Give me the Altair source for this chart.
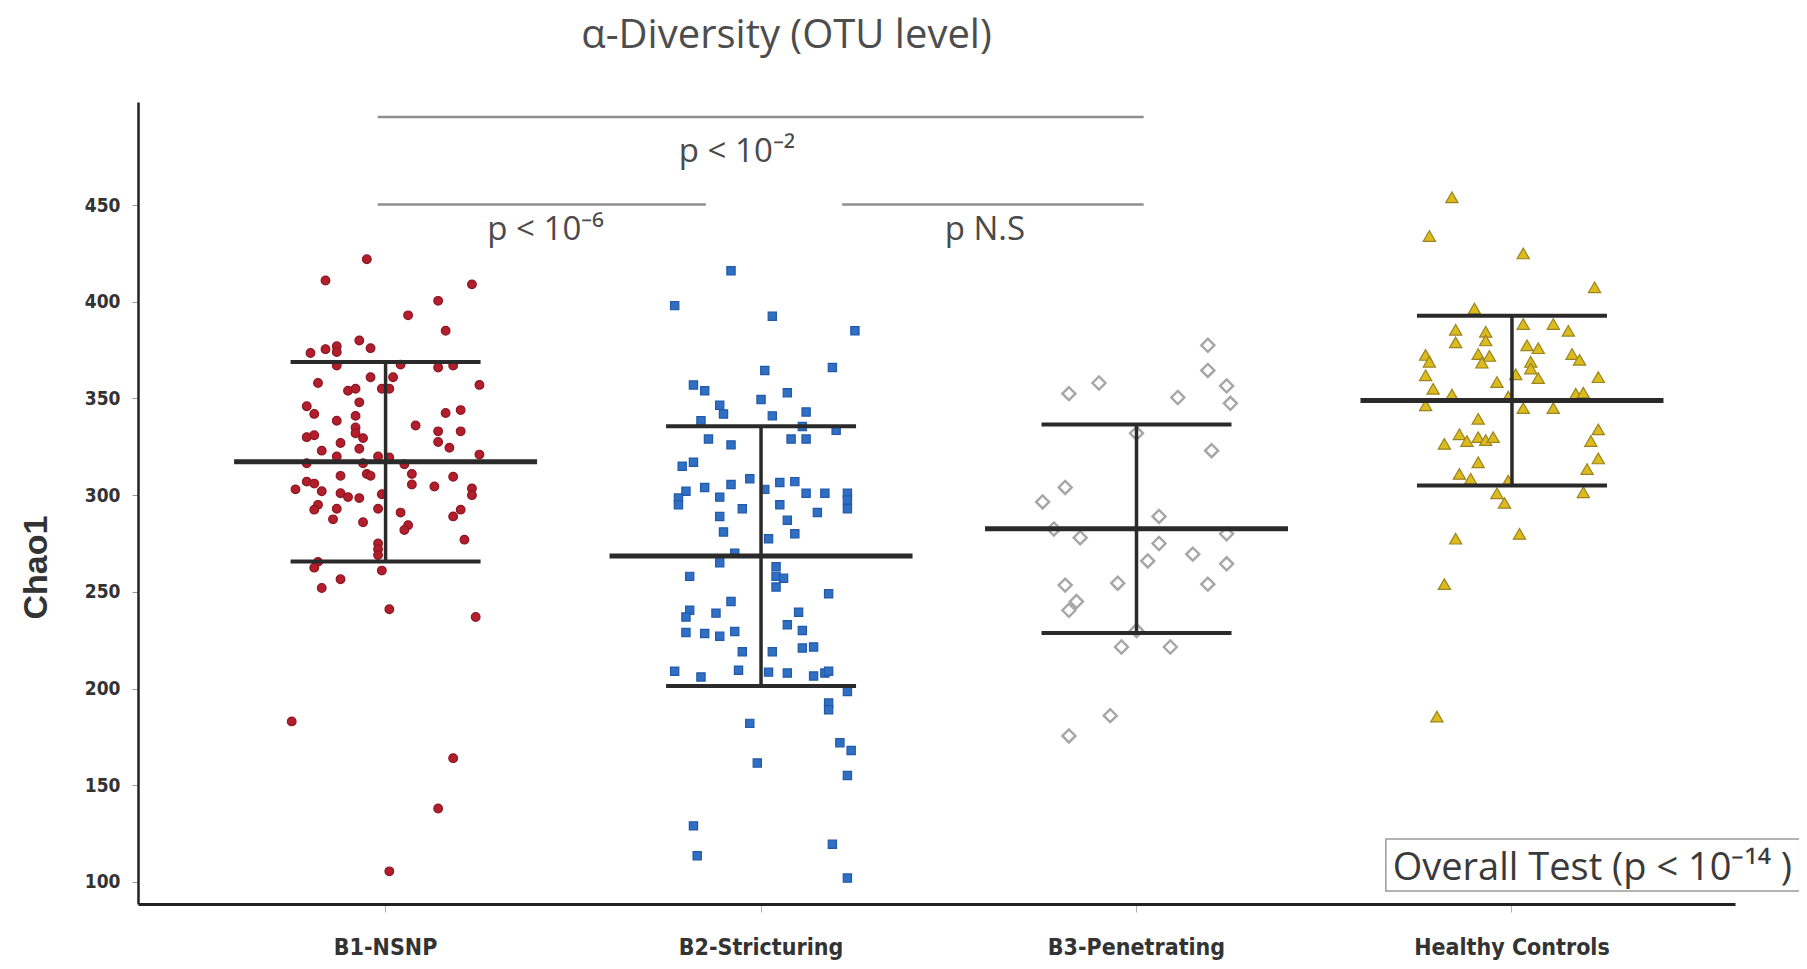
import altair as alt
import pandas as pd

GROUPS = ["B1-NSNP", "B2-Stricturing", "B3-Penetrating", "Healthy Controls"]

# Chao1 values; jitter in % of the category spacing
B1_CHAO1 = [422, 411, 409, 400.5, 393, 385, 380, 376, 373.5, 375.5,
            377, 374, 367, 367.5, 366, 367, 361, 361, 358, 357,
            354, 355, 355, 355, 348, 346, 342, 342.5, 344, 341,
            338.5, 336, 335, 333, 333, 330, 331, 329.5, 332, 327,
            327.5, 324.5, 324, 323, 321, 320, 320, 319.5, 316.5, 316.5,
            316, 311, 310, 311, 310, 309.5, 307, 306, 305.5, 304.5,
            303.5, 303, 302, 301, 300.5, 299, 298.5, 300, 295, 292.5,
            293, 293, 292.5, 291, 289, 287.5, 286, 284.5, 282, 277,
            275, 272, 269, 265.5, 262.5, 261, 256.5, 252, 241, 237,
            183, 164, 138, 105.5]
B1_JITTER = [-5, -16, 23, 14, 6, 16, -7, -4, -20, -16,
             -13, -13, -13, 4, 14, 18, -4, 2, -18, 25,
             -10, -8, -1, 1, -7, -21, -19, 16, 20, -8,
             -13, 8, -8, 14, 20, -21, -19, -6, -8, -12,
             14, 17, -7, -17, 25, -13, -2, 1, -21, -6,
             5, -5, -12, 7, -4, 18, -21, -19, 7, 13,
             23, -24, -17, -12, -1, -10, -7, 23, -18, -19,
             -13, -2, 20, 4, 18, -14, -6, 6, 5, 21,
             -2, -2, -2, -18, -19, -1, -12, -17, 1, 24,
             -25, 18, 14, 1]

B2_CHAO1 = [416, 398, 392.5, 385, 364.5, 366, 357, 354, 353, 349.5,
            346.5, 342, 343, 341, 338.5, 335.5, 333.5, 329, 326, 329,
            329, 317, 315, 308.5, 305.5, 306.5, 307, 304, 303, 302,
            301, 301, 301, 298.5, 299, 297.5, 295, 295, 293, 293,
            291, 289, 287, 281, 280, 277.5, 270, 265, 263, 258,
            257, 252.5, 258, 249, 245, 240.5, 239.5, 237, 239,
            229, 228.5, 227, 229.5, 233, 230,
            219, 219, 221, 221.5, 209, 209.5, 208.5, 208, 206, 206.5,
            208, 209, 198.5, 192.5, 189, 182, 172, 168, 161.5, 155,
            129, 113.5, 119.5, 102]
B2_JITTER = [-8, -23, 3, 25, 1, 19, -18, -15, 7, 0,
             -11, -10, 12, 3, -16, 11, 20, -14, -8, 8,
             12, -18, -21, -3, -8, 5, 9, -15, 1, -20,
             12, 17, 23, -22, -11, 23, -22, 5, 23, -5,
             15, -11, 7, -10, 9, 2, -7, -11, 4, 4,
             6, 4, -19, 18, -8, -19, 10, -20, -12,
             -20, -15, -11, -7, 7, 11,
             -5, 3, 11, 14, -23, -6, 2, 7, -16, 14,
             17, 18, 23, 18, 18, -3, 21, 24, -1, 23,
             -18, -17, 19, 23]

B3_CHAO1 = [377.5, 364.5, 358, 352.5, 356.5, 347.5, 350.5, 332, 323, 304,
            296.5, 289, 282.5, 278, 280, 275, 269.5, 266, 264.5, 253.5,
            254.5, 254, 245, 240.5, 230, 221.5, 221.5, 186, 175.5]
B3_JITTER = [19, 19, -10, -18, 24, 25, 11, 0, 20, -19,
             -25, 6, -22, -15, 24, 6, 15, 3, 24, -19,
             -5, 19, -16, -18, 0, -4, 9, -7, -18]

HC_CHAO1 = [454, 434, 425, 407.5, 396.5, 388.5, 388.5, 385, 385.5, 384.5,
            379, 380, 377.5, 376, 372.5, 373, 372, 368.5, 373, 370,
            369, 369, 365.5, 362.5, 362, 360.5, 361, 358.5, 355, 352,
            351, 352.5, 353, 346.5, 345, 345, 339.5, 334, 331.5, 328,
            330, 328.5, 330, 326.5, 328, 317, 319, 313.5, 311, 308.5,
            307.5, 301, 301.5, 296, 277.5, 280, 254, 185.5]
HC_JITTER = [-16, -22, 3, 22, -10, 3, 11, 15, -15, -7,
             -15, -7, 4, 7, -23, -9, -6, -8, 16, 18,
             5, -22, 5, 1, -23, 7, 23, -4, -21, -16,
             -1, 17, 19, -23, 3, 11, -9, 23, -14, -12,
             -9, -7, -5, -18, 21, -9, 23, 20, -14, -11,
             -1, -4, 19, -2, -15, 2, -18, -20]

MEANS = [317.3, 268.5, 282.6, 348.9]
SDS = [51.6, 67.2, 53.9, 43.9]

P_LABELS = ["p < 10⁻²", "p < 10⁻⁶", "p N.S"]
OVERALL_LABEL = "Overall Test  (p < 10⁻¹⁴ )"

rows = []
for g, vals, jits in zip(GROUPS, [B1_CHAO1, B2_CHAO1, B3_CHAO1, HC_CHAO1],
                         [B1_JITTER, B2_JITTER, B3_JITTER, HC_JITTER]):
    for v, j in zip(vals, jits):
        rows.append({"group": g, "chao1": v, "jitter": j / 100.0})
points_df = pd.DataFrame(rows)
summary_df = pd.DataFrame({"group": GROUPS, "mean": MEANS, "sd": SDS})

NARROW = "Liberation Sans Narrow, DejaVu Sans Condensed, Arial Narrow, sans-serif"
x_scale = alt.Scale(type="band", domain=GROUPS, paddingInner=0, paddingOuter=0.1267, align=0.629)
y_scale = alt.Scale(domain=[88.6, 503.3], nice=False, zero=False)

x_axis = alt.Axis(labelFont=NARROW, labelFontSize=23, labelFontWeight="bold", labelColor="#333333",
                  labelPadding=24, labelAngle=0, labelAlign="center", labelBaseline="top",
                  labelLimit=500, tickSize=8, tickColor="#b0b0b0",
                  tickWidth=1, domainColor="#222222", domainWidth=3)
y_axis = alt.Axis(values=[100, 150, 200, 250, 300, 350, 400, 450], labelFont=NARROW, labelFontSize=19,
                  labelFontWeight="bold", labelColor="#333333", labelPadding=12, tickSize=6,
                  tickColor="#999999", tickWidth=1, domainColor="#222222", domainWidth=2.5,
                  titleFont="Liberation Sans, Arial, sans-serif", titleFontSize=34, titleFontWeight="bold",
                  titleColor="#333333", titleAngle=-90, titleX=-92, titleY=465, titleAlign="center",
                  titleBaseline="alphabetic")

# marker style per group: shape, fill, stroke, size, strokeWidth
STYLES = {
    "B1-NSNP": ("circle", "#b31e2c", "#8e1622", 75, 1.2),
    "B2-Stricturing": ("square", "#2f6fc4", "#2259a8", 68, 1.2),
    "B3-Penetrating": ("diamond", "#ffffff", "#a6a6a6", 170, 2.4),
    "Healthy Controls": ("triangle-up", "#dcbc1c", "#9a8320", 150, 1.2),
}

point_layers = []
for i, g in enumerate(GROUPS):
    shp, fc, sc, sz, sw = STYLES[g]
    if i == 0:
        xe = alt.X("group:N", scale=x_scale, axis=x_axis, title=None)
        ye = alt.Y("chao1:Q", scale=y_scale, axis=y_axis, title="Chao1")
    else:
        xe = alt.X("group:N", scale=x_scale, title=None)
        ye = alt.Y("chao1:Q", scale=y_scale, title="Chao1")
    point_layers.append(
        alt.Chart(points_df).transform_filter(alt.datum.group == g).mark_point(
            shape=shp, fill=fc, stroke=sc, size=sz, strokeWidth=sw, opacity=1, fillOpacity=1, filled=False
        ).encode(
            x=xe,
            xOffset=alt.XOffset("jitter:Q", scale=alt.Scale(domain=[-0.5, 0.5])),
            y=ye,
        )
    )

base = alt.Chart(summary_df).transform_calculate(lo="datum.mean - datum.sd", hi="datum.mean + datum.sd")
bar_color = "#2a2a2a"
mean_tick = base.mark_tick(thickness=5, color=bar_color, opacity=1, size=303).encode(
    x=alt.X("group:N", scale=x_scale, title=None),
    y=alt.Y("mean:Q", scale=y_scale, title="Chao1"),
)
lo_tick = base.mark_tick(thickness=4, color=bar_color, opacity=1, size=190).encode(
    x=alt.X("group:N", scale=x_scale, title=None),
    y=alt.Y("lo:Q", scale=y_scale, title="Chao1"),
)
hi_tick = base.mark_tick(thickness=4, color=bar_color, opacity=1, size=190).encode(
    x=alt.X("group:N", scale=x_scale, title=None),
    y=alt.Y("hi:Q", scale=y_scale, title="Chao1"),
)
vline = base.mark_rule(strokeWidth=3.5, color=bar_color).encode(
    x=alt.X("group:N", scale=x_scale, title=None),
    y=alt.Y("lo:Q", scale=y_scale, title="Chao1"),
    y2="hi:Q",
)


def bracket(g1, p1, g2, p2, level):
    return alt.Chart(pd.DataFrame({"k": [0]})).mark_rule(color="#8f8f8f", strokeWidth=2.5).encode(
        x=alt.X(datum=g1, type="nominal", bandPosition=p1, scale=x_scale, title=None),
        x2=alt.X2(datum=g2, bandPosition=p2),
        y=alt.Y(datum=level, type="quantitative", scale=y_scale, title="Chao1"),
    )


def ptext(label, g, p, level, size):
    return alt.Chart(pd.DataFrame({"label": [label]})).mark_text(
        font="Open Sans", fontSize=size, color="#4a4a4a", align="center", baseline="alphabetic"
    ).encode(
        x=alt.X(datum=g, type="nominal", bandPosition=p, scale=x_scale, title=None),
        y=alt.Y(datum=level, type="quantitative", scale=y_scale, title="Chao1"),
        text="label:N",
    )


b_top = bracket("B1-NSNP", 0.479, "B3-Penetrating", 0.519, 495.5)
b_left = bracket("B1-NSNP", 0.479, "B2-Stricturing", 0.353, 450.3)
b_right = bracket("B2-Stricturing", 0.716, "B3-Penetrating", 0.519, 450.3)
t_top = ptext(P_LABELS[0], "B2-Stricturing", 0.436, 472.2, 33)
t_left = ptext(P_LABELS[1], "B1-NSNP", 0.926, 431.9, 33)
t_right = ptext(P_LABELS[2], "B3-Penetrating", 0.096, 431.9, 33)

box = alt.Chart(pd.DataFrame({"k": [0]})).mark_rect(
    fillOpacity=0, stroke="#9a9a9a", strokeWidth=1.5, x2Offset=100
).encode(
    x=alt.X(datum="Healthy Controls", type="nominal", bandPosition=0.164, scale=x_scale, title=None),
    x2=alt.X2(datum="Healthy Controls", bandPosition=1.0),
    y=alt.Y(datum=122.2, type="quantitative", scale=y_scale, title="Chao1"),
    y2=alt.Y2(datum=95.3),
)
overall = alt.Chart(pd.DataFrame({"label": [OVERALL_LABEL]})).mark_text(
    font="Open Sans", fontSize=38, color="#3a3a3a", align="center", baseline="alphabetic"
).encode(
    x=alt.X(datum="Healthy Controls", type="nominal", bandPosition=0.714, scale=x_scale, title=None),
    y=alt.Y(datum=100.9, type="quantitative", scale=y_scale, title="Chao1"),
    text="label:N",
)

chart = alt.layer(
    *point_layers,
    b_top, b_left, b_right, t_top, t_left, t_right,
    vline, lo_tick, hi_tick, mean_tick, box, overall,
).properties(
    width=1597, height=802,
    title=alt.TitleParams(text="α-Diversity (OTU level)", font="Open Sans", fontSize=40,
                          fontWeight="normal", color="#4d4d4d", anchor="middle", dx=-150, offset=46),
    autosize=alt.AutoSizeParams(type="none"),
    padding={"left": 130, "top": 94, "right": 64, "bottom": 57},
).configure_axis(grid=False).configure_view(stroke=None)

chart.save("out.html", embed_options={"renderer": "svg", "actions": False})
